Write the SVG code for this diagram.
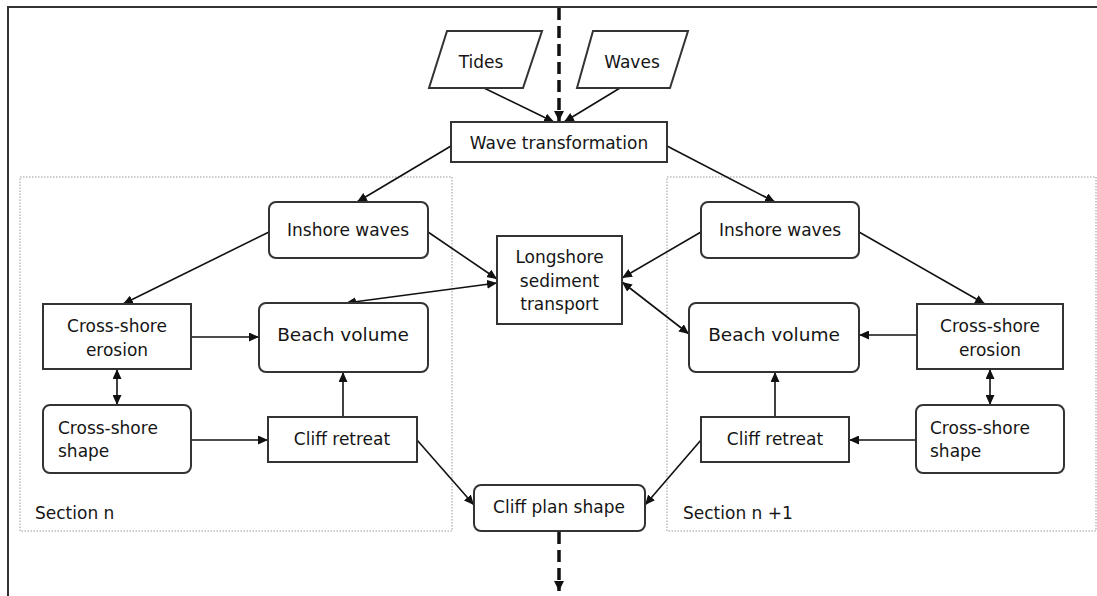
<svg xmlns="http://www.w3.org/2000/svg" width="1097" height="596" viewBox="0 0 1097 596">
<style>
text{font-family:"DejaVu Sans","Liberation Sans",sans-serif;font-size:17px;fill:#151515}
.c{text-anchor:middle}
.box{fill:#fff;stroke:#333;stroke-width:2}
.sec{fill:none;stroke:#999;stroke-width:1;stroke-dasharray:1.5 1.5}
.ln{fill:none;stroke:#111;stroke-width:1.6}
.dash{fill:none;stroke:#111;stroke-width:3.5;stroke-dasharray:12 6}
</style>
<defs>
<marker id="ah" markerUnits="userSpaceOnUse" markerWidth="11" markerHeight="9" refX="10" refY="4.5" orient="auto-start-reverse">
<path d="M0,0 L10,4.5 L0,9 z" fill="#111"/>
</marker>
<marker id="ahd" markerUnits="userSpaceOnUse" markerWidth="11" markerHeight="10" refX="10" refY="5" orient="auto">
<path d="M0,0 L10,5 L0,10 z" fill="#111"/>
</marker>
</defs>
<rect width="1097" height="596" fill="#fff"/>
<g id="frame">
<path d="M8,596 L8,7 L1097,7" fill="none" stroke="#333" stroke-width="2"/>
</g>
<g id="section-n">
<rect class="sec" x="20" y="177" width="432" height="354"/>
<text x="35" y="519">Section n</text>
</g>
<g id="section-n1">
<rect class="sec" x="667" y="177" width="429" height="354"/>
<text x="683" y="519">Section n +1</text>
</g>
<g id="connectors">
<line class="dash" x1="559" y1="8" x2="559" y2="121" marker-end="url(#ahd)"/>
<line class="dash" x1="559" y1="532" x2="559" y2="591" marker-end="url(#ahd)"/>
<line class="ln" x1="484" y1="88" x2="554" y2="122" marker-end="url(#ah)"/>
<line class="ln" x1="620" y1="88" x2="564" y2="122" marker-end="url(#ah)"/>
<line class="ln" x1="451" y1="146" x2="357" y2="202" marker-end="url(#ah)"/>
<line class="ln" x1="667" y1="146" x2="775" y2="202" marker-end="url(#ah)"/>
<line class="ln" x1="269" y1="232" x2="123" y2="304" marker-end="url(#ah)"/>
<line class="ln" x1="428" y1="232" x2="497" y2="279" marker-end="url(#ah)"/>
<line class="ln" x1="497" y1="283" x2="346" y2="303" marker-start="url(#ah)" marker-end="url(#ah)"/>
<line class="ln" x1="701" y1="232" x2="622" y2="278" marker-end="url(#ah)"/>
<line class="ln" x1="622" y1="282" x2="689" y2="334" marker-start="url(#ah)" marker-end="url(#ah)"/>
<line class="ln" x1="859" y1="232" x2="985" y2="304" marker-end="url(#ah)"/>
<line class="ln" x1="191" y1="337" x2="259" y2="337" marker-end="url(#ah)"/>
<line class="ln" x1="917" y1="335" x2="859" y2="335" marker-end="url(#ah)"/>
<line class="ln" x1="117" y1="369" x2="117" y2="405" marker-start="url(#ah)" marker-end="url(#ah)"/>
<line class="ln" x1="990" y1="369" x2="990" y2="405" marker-start="url(#ah)" marker-end="url(#ah)"/>
<line class="ln" x1="191" y1="440" x2="268" y2="440" marker-end="url(#ah)"/>
<line class="ln" x1="343" y1="417" x2="343" y2="372" marker-end="url(#ah)"/>
<line class="ln" x1="916" y1="440" x2="849" y2="440" marker-end="url(#ah)"/>
<line class="ln" x1="775" y1="417" x2="775" y2="372" marker-end="url(#ah)"/>
<line class="ln" x1="417" y1="440" x2="474" y2="505" marker-end="url(#ah)"/>
<line class="ln" x1="701" y1="440" x2="645" y2="505" marker-end="url(#ah)"/>
</g>
<g id="tides">
<polygon class="box" points="447,31 542,31 523,88 429,88"/>
<text class="c" x="481" y="68">Tides</text>
</g>
<g id="waves">
<polygon class="box" points="593,31 688,31 670,88 577,88"/>
<text class="c" x="632" y="68">Waves</text>
</g>
<g id="wave-transformation">
<rect class="box" x="451" y="122" width="216" height="40"/>
<text class="c" x="559" y="149">Wave transformation</text>
</g>
<g id="inshore-waves-n">
<rect class="box" x="269" y="202" width="159" height="56" rx="7"/>
<text class="c" x="348" y="236">Inshore waves</text>
</g>
<g id="inshore-waves-n1">
<rect class="box" x="701" y="202" width="158" height="56" rx="7"/>
<text class="c" x="780" y="236">Inshore waves</text>
</g>
<g id="longshore">
<rect class="box" x="497" y="236" width="125" height="88"/>
<text class="c" x="559.5" y="263">Longshore</text>
<text class="c" x="559.5" y="287">sediment</text>
<text class="c" x="559.5" y="310">transport</text>
</g>
<g id="cross-shore-erosion-n">
<rect class="box" x="43" y="304" width="148" height="65"/>
<text class="c" x="117" y="332">Cross-shore</text>
<text class="c" x="117" y="356">erosion</text>
</g>
<g id="beach-volume-n">
<rect class="box" x="259" y="303" width="169" height="69" rx="7"/>
<text class="c" x="343" y="341" style="font-size:18.5px">Beach volume</text>
</g>
<g id="beach-volume-n1">
<rect class="box" x="689" y="303" width="170" height="69" rx="7"/>
<text class="c" x="774" y="341" style="font-size:18.5px">Beach volume</text>
</g>
<g id="cross-shore-erosion-n1">
<rect class="box" x="917" y="304" width="146" height="65"/>
<text class="c" x="990" y="332">Cross-shore</text>
<text class="c" x="990" y="356">erosion</text>
</g>
<g id="cross-shore-shape-n">
<rect class="box" x="43" y="405" width="148" height="68" rx="7"/>
<text x="58" y="434">Cross-shore</text>
<text x="58" y="457">shape</text>
</g>
<g id="cliff-retreat-n">
<rect class="box" x="268" y="417" width="149" height="45"/>
<text class="c" x="342" y="445">Cliff retreat</text>
</g>
<g id="cliff-retreat-n1">
<rect class="box" x="701" y="417" width="148" height="45"/>
<text class="c" x="775" y="445">Cliff retreat</text>
</g>
<g id="cross-shore-shape-n1">
<rect class="box" x="916" y="405" width="148" height="68" rx="7"/>
<text x="930" y="434">Cross-shore</text>
<text x="930" y="457">shape</text>
</g>
<g id="cliff-plan-shape">
<rect class="box" x="474" y="485" width="171" height="46" rx="7"/>
<text class="c" x="559" y="513">Cliff plan shape</text>
</g>
</svg>
